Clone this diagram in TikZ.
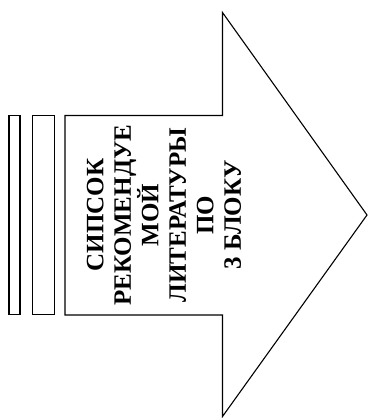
\documentclass[tikz,border=0pt]{standalone}
\usepackage{fontspec}
\setmainfont{Liberation Serif}
\usetikzlibrary{positioning}
\tikzset{
	outline/.style={draw, line width=1.1pt, line join=miter},
	bar/.style={outline, minimum width=#1, minimum height=199pt, inner sep=0pt},
	caption/.style={rotate=90, align=center, inner sep=0pt,
		font=\bfseries\fontsize{25}{27.5}\selectfont}
}

\begin{document}
\begin{tikzpicture}[x=1pt, y=-1pt]
		\useasboundingbox (0,0) rectangle (368,418);
		
		% arrow
		\draw[outline] (65,115.5) -- (222.5,115.5) -- (222.5,12.5) -- (367,215)
		-- (222.5,416.5) -- (222.5,315) -- (65,315) -- cycle;
		
		% bars
		\node[bar=11pt] (b1) at (14.5,215.3) {};
		\node[bar=22pt, right=11pt of b1] (b2) {};
		
		\node[caption] (txt) at (164,215) {СИПСОК\\РЕКОМЕНДУЕ\\МОЙ\\ЛИТЕРАТУРЫ\\ПО\\3 БЛОКУ};
	\end{tikzpicture}
\end{document}
